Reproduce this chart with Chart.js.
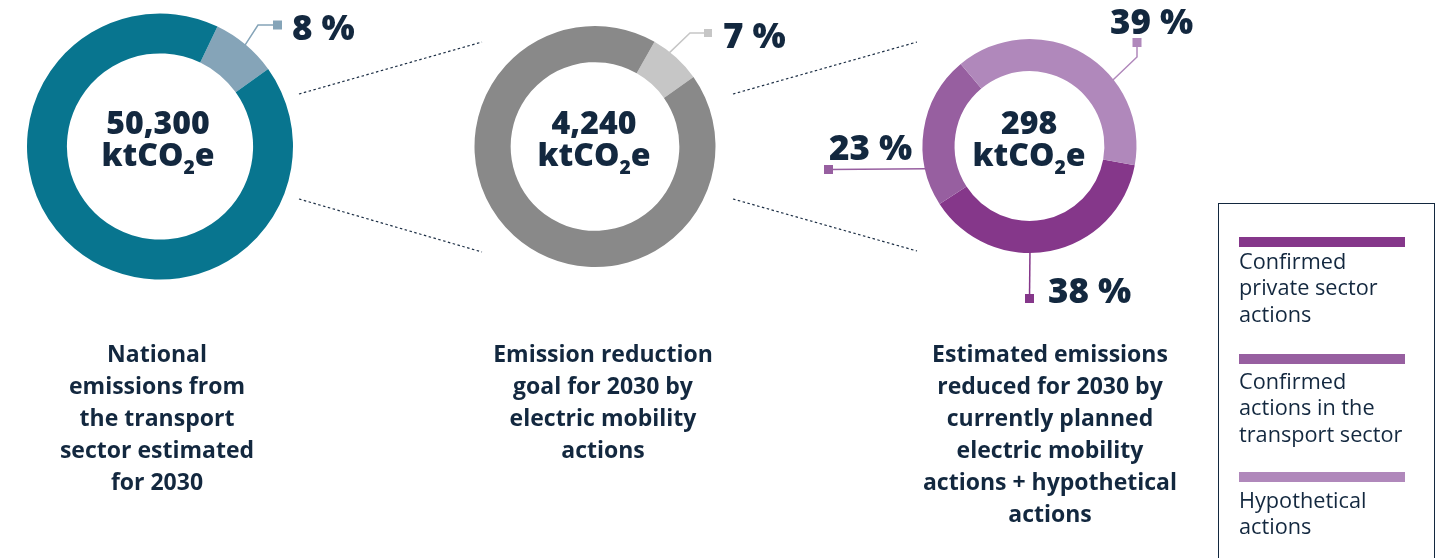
<!DOCTYPE html>
<html>
<head>
<meta charset="utf-8">
<script src="https://cdn.jsdelivr.net/npm/chart.js@4.4.1/dist/chart.umd.min.js"></script>
<style>
  html, body { margin: 0; padding: 0; background: #ffffff; }
  body { width: 1450px; height: 558px; position: relative; overflow: hidden; font-family: "Open Sans", "Noto Sans", sans-serif; color: #13283f; }
  .layer { position: absolute; left: 0; top: 0; width: 1450px; height: 558px; }
  canvas.layer { pointer-events: none; }
  .center { position: absolute; width: 200px; text-align: center; font-weight: 800; font-size: 32px; line-height: 32px; }
  .center sub { font-size: 0.6em; vertical-align: -0.4em; line-height: 0; }
  .pct { position: absolute; font-weight: 800; font-size: 35px; line-height: 35px; white-space: nowrap; }
  .caption { position: absolute; width: 300px; text-align: center; font-weight: 700; font-size: 23px; line-height: 32px; }
  #legend { position: absolute; left: 1218px; top: 203px; width: 217px; height: 400px; border: 1.5px solid #13283f; box-sizing: border-box; }
  .lg-bar { position: absolute; left: 20px; width: 166px; height: 10px; }
  .lg-text { position: absolute; left: 20px; width: 195px; font-size: 21.7px; line-height: 26.5px; font-weight: 400; }
</style>
</head>
<body>
<svg class="layer" width="1450" height="558">
  <g stroke="#1d2f45" stroke-width="1.2" stroke-dasharray="2.5 2.5" fill="none">
    <line x1="299" y1="94" x2="482" y2="42"/>
    <line x1="299" y1="199" x2="482" y2="252"/>
    <line x1="733" y1="94" x2="917" y2="42"/>
    <line x1="733" y1="199" x2="917" y2="251"/>
  </g>
</svg>
<canvas id="c1" class="layer" width="1450" height="558"></canvas>
<canvas id="c2" class="layer" width="1450" height="558"></canvas>
<canvas id="c3" class="layer" width="1450" height="558"></canvas>

<div class="center" style="left:58px; top:106px;">50,300<br>ktCO<sub>2</sub>e</div>
<div class="center" style="left:494px; top:106px;">4,240<br>ktCO<sub>2</sub>e</div>
<div class="center" style="left:929px; top:106px;">298<br>ktCO<sub>2</sub>e</div>

<div id="pcts"></div>

<div class="caption" style="left:7px; top:337px;">National<br>emissions from<br>the transport<br>sector estimated<br>for 2030</div>
<div class="caption" style="left:453px; top:337px;">Emission reduction<br>goal for 2030 by<br>electric mobility<br>actions</div>
<div class="caption" style="left:900px; top:337px;">Estimated emissions<br>reduced for 2030 by<br>currently planned<br>electric mobility<br>actions + hypothetical<br>actions</div>

<div id="legend"></div>

<script>
// ---- Data ----
const nationalCategories = ["Electric mobility reduction goal", "Remaining transport emissions"];
const nationalShares = [8, 92];
const goalCategories = ["Estimated reduction", "Remaining goal"];
const goalShares = [7, 93];
const actionCategories = ["Confirmed private sector actions", "Confirmed actions in the transport sector", "Hypothetical actions"];
const actionShares = [38, 23, 39];
const legendLabels = ["Confirmed<br>private sector<br>actions", "Confirmed<br>actions in the<br>transport sector", "Hypothetical<br>actions"];

// ---- Styles ----
const nationalColors = ["#85a4b8", "#08758f"];
const goalColors = ["#c6c6c6", "#898989"];
const actionColors = ["#85378a", "#975fa0", "#b088bb"];

Chart.defaults.font.family = '"Open Sans", sans-serif';

const leaderPlugin = {
  id: 'leaders',
  afterDatasetsDraw(chart, args, opts) {
    const meta = chart.getDatasetMeta(0);
    const ctx = chart.ctx;
    (opts.items || []).forEach(it => {
      const arc = meta.data[it.index];
      const p = arc.getProps(['x', 'y', 'startAngle', 'endAngle', 'outerRadius'], true);
      const a = p.startAngle + it.t * (p.endAngle - p.startAngle);
      const sx = p.x + Math.cos(a) * (p.outerRadius - 1);
      const sy = p.y + Math.sin(a) * (p.outerRadius - 1);
      const color = chart.data.datasets[0].backgroundColor[it.index];
      ctx.save();
      ctx.strokeStyle = color;
      ctx.lineWidth = 1.5;
      ctx.beginPath();
      ctx.moveTo(sx, sy);
      it.pts.forEach(q => ctx.lineTo(q[0], q[1]));
      ctx.stroke();
      const last = it.pts[it.pts.length - 1];
      ctx.fillStyle = color;
      ctx.fillRect(last[0] - it.sq / 2, last[1] - it.sq / 2, it.sq, it.sq);
      ctx.restore();
    });
  }
};

function makeDonut(id, labels, values, colors, rotation, padding, items) {
  return new Chart(document.getElementById(id), {
    type: 'doughnut',
    data: { labels: labels, datasets: [{ data: values, backgroundColor: colors, borderWidth: 0, hoverOffset: 0 }] },
    options: {
      responsive: false,
      animation: false,
      cutout: '70%',
      rotation: rotation,
      layout: { padding: padding },
      events: [],
      plugins: { legend: { display: false }, tooltip: { enabled: false }, leaders: { items: items } }
    },
    plugins: [leaderPlugin]
  });
}

makeDonut('c1', nationalCategories, nationalShares, nationalColors, 25.6,
  { left: 27, top: 13, right: 1157, bottom: 278 },
  [{ index: 0, t: 0.5, pts: [[258, 25], [277.5, 25]], sq: 9 }]);

makeDonut('c2', goalCategories, goalShares, goalColors, 29.6,
  { left: 474.5, top: 26, right: 734.5, bottom: 291 },
  [{ index: 0, t: 0.35, pts: [[690, 33], [708, 33]], sq: 8 }]);

makeDonut('c3', actionCategories, actionShares, actionColors, 100.4,
  { left: 922.5, top: 39, right: 313.5, bottom: 305 },
  [
    { index: 2, t: 0.653, pts: [[1137, 57], [1137, 42.5]], sq: 9 },
    { index: 1, t: 0.246, pts: [[828.5, 169.5]], sq: 9 },
    { index: 0, t: 0.58, pts: [[1029.5, 298.5]], sq: 9 }
  ]);

// ---- Percentage labels (text from the data) ----
const pctLabels = [
  { v: nationalShares[0], left: 292, top: 8.5 },
  { v: goalShares[0], left: 723, top: 16.5 },
  { v: actionShares[2], left: 1110, top: 3 },
  { v: actionShares[1], left: 829, top: 128.5 },
  { v: actionShares[0], left: 1048, top: 271.5 }
];
const pctBox = document.getElementById('pcts');
pctLabels.forEach(p => {
  const d = document.createElement('div');
  d.className = 'pct';
  d.style.left = p.left + 'px';
  d.style.top = p.top + 'px';
  d.textContent = p.v + ' %';
  pctBox.appendChild(d);
});

// ---- Legend ----
const legend = document.getElementById('legend');
const barTops = [33, 150, 268];
const textTops = [43.5, 163.5, 282.5];
legendLabels.forEach((lab, i) => {
  const b = document.createElement('div');
  b.className = 'lg-bar';
  b.style.top = barTops[i] + 'px';
  b.style.background = actionColors[i];
  legend.appendChild(b);
  const t = document.createElement('div');
  t.className = 'lg-text';
  t.style.top = textTops[i] + 'px';
  t.innerHTML = lab;
  legend.appendChild(t);
});
</script>
</body>
</html>
